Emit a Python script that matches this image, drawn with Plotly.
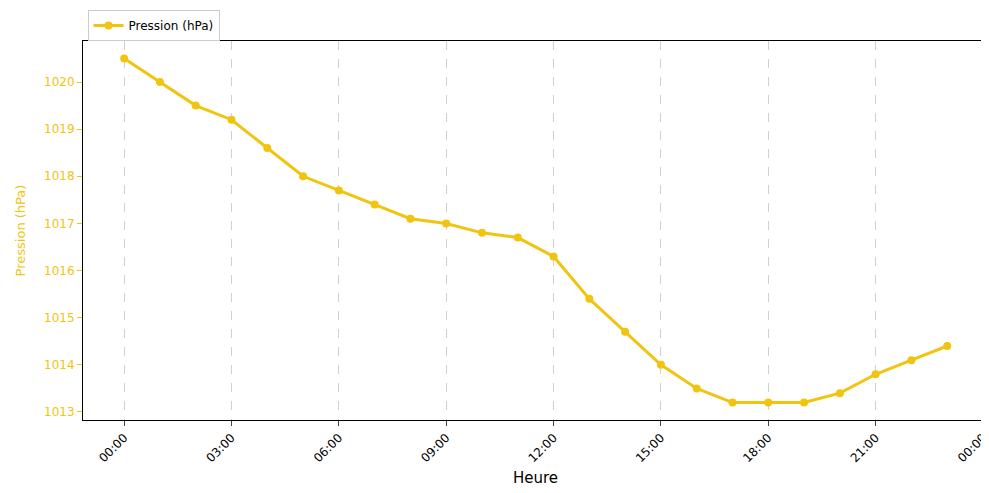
import plotly.graph_objects as go

hours = list(range(24))
pressure = [1020.5, 1020.0, 1019.5, 1019.2, 1018.6, 1018.0, 1017.7, 1017.4, 1017.1, 1017.0,
            1016.8, 1016.7, 1016.3, 1015.4, 1014.7, 1014.0, 1013.5, 1013.2, 1013.2, 1013.2,
            1013.4, 1013.8, 1014.1, 1014.4]
tick_vals = [0, 3, 6, 9, 12, 15, 18, 21, 24]
tick_text = ["00:00", "03:00", "06:00", "09:00", "12:00", "15:00", "18:00", "21:00", "00:00"]

color = "#F1C40F"
fig = go.Figure(go.Scatter(x=hours, y=pressure, mode="lines+markers", name="Pression (hPa)",
                           line=dict(color=color, width=3), marker=dict(size=8, color=color)))
fig.update_layout(
    width=989, height=493, plot_bgcolor="white", paper_bgcolor="white",
    margin=dict(l=75, r=9, t=33, b=81, autoexpand=False),
    font=dict(family="DejaVu Sans", size=12, color="black"),
    showlegend=True,
    legend=dict(x=0.005, y=1.0, xanchor="left", yanchor="bottom", bordercolor="#ccc", borderwidth=1,
                bgcolor="white", font=dict(size=12)),
    xaxis=dict(range=[-1.15, 24.14], tickvals=tick_vals, ticktext=tick_text, tickangle=-45,
               showgrid=True, gridcolor="#d0d0d0", griddash="dash", gridwidth=1, automargin=False,
               showline=True, linecolor="black", mirror=True, ticks="outside", zeroline=False,
               title=dict(text="Heure", font=dict(size=15), standoff=8)),
    yaxis=dict(range=[1012.83, 1020.87], dtick=1, showgrid=False, showline=True, linecolor="black",
               mirror=True, ticks="outside", tickcolor=color, tickfont=dict(color=color), zeroline=False,
               automargin=False,
               title=dict(text="Pression (hPa)", font=dict(color=color, size=13))),
)
fig.write_html("out.html")
